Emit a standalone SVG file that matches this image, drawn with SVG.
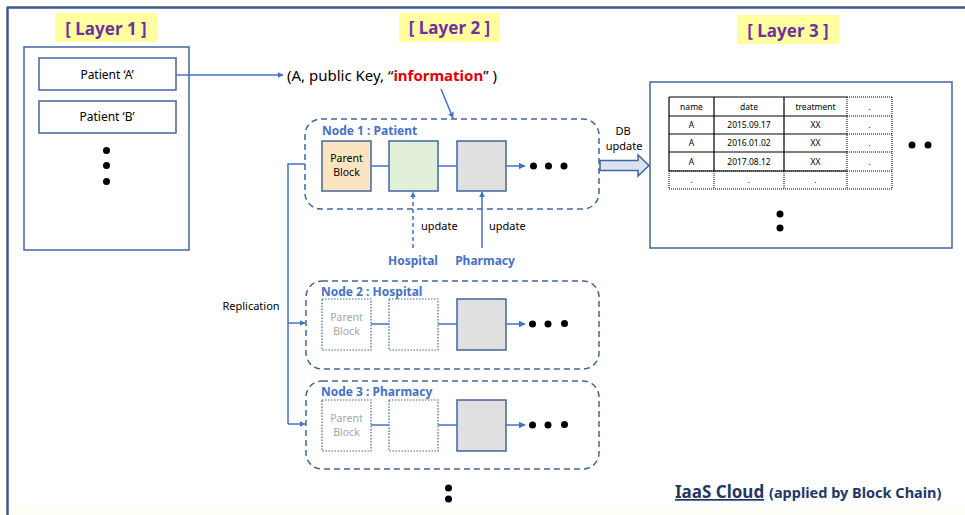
<svg xmlns="http://www.w3.org/2000/svg" width="965" height="515" viewBox="0 0 965 515">
<defs>
<marker id="ah" viewBox="0 0 10 10" refX="9" refY="5" markerWidth="6" markerHeight="6" markerUnits="userSpaceOnUse" orient="auto"><path d="M0,0 L10,5 L0,10 z" fill="#4472c4"/></marker>
<marker id="ahs" viewBox="0 0 10 10" refX="9" refY="5" markerWidth="7" markerHeight="7" markerUnits="userSpaceOnUse" orient="auto"><path d="M0,0 L10,5 L0,10 z" fill="#4472c4"/></marker>
</defs>
<style>
text{font-family:"Noto Sans","Noto Sans CJK KR",sans-serif;}
.lay{fill:#7030a0;font-weight:bold;font-size:17px;text-anchor:middle;}
.laybg{fill:#ffff9f;}
.frame{fill:none;stroke:#41669c;stroke-width:1.5;}
.pbox{fill:#fff;stroke:#41669c;stroke-width:1.5;}
.ptxt{font-size:12px;text-anchor:middle;fill:#000;}
.btxt{font-size:10.5px;text-anchor:middle;fill:#000;}
.dot{fill:#000;}
.node{fill:none;stroke:#41669c;stroke-width:1.5;stroke-dasharray:6,4;}
.ntitle{font-size:12px;font-weight:bold;fill:#4472c4;}
.blk{stroke:#41669c;stroke-width:1.5;}
.dblk{fill:#fff;stroke:#41669c;stroke-width:1.2;stroke-dasharray:1.5,1.5;}
.conn{stroke:#4472c4;stroke-width:1.5;fill:none;}
.small{font-size:11px;fill:#000;}
.blue{font-size:12px;font-weight:bold;fill:#4472c4;text-anchor:middle;}
.gray{font-size:10.5px;fill:#a6a6a6;text-anchor:middle;}
.tb{font-size:8.5px;fill:#000;text-anchor:middle;}
.tl{stroke:#000;stroke-width:1.2;}
.td{stroke:#000;stroke-width:1;stroke-dasharray:1,1;}
</style>
<rect width="965" height="515" fill="#fff"/>
<rect x="0" y="509" width="965" height="6" fill="#fffff5"/>
<g id="outer-frame">
<line x1="7" y1="7.5" x2="965" y2="7.5" stroke="#3a5a8c" stroke-width="2.5"/>
<line x1="7.5" y1="7" x2="7.5" y2="515" stroke="#3a5a8c" stroke-width="2.5"/>
</g>
<g id="layer1-label"><rect class="laybg" x="55" y="13" width="102" height="29"/><text class="lay" x="106" y="35">[ Layer 1 ]</text></g>
<g id="layer2-label"><rect class="laybg" x="399" y="13" width="101" height="29"/><text class="lay" x="449.5" y="34">[ Layer 2 ]</text></g>
<g id="layer3-label"><rect class="laybg" x="737" y="15" width="102" height="29"/><text class="lay" x="788" y="37">[ Layer 3 ]</text></g>

<g id="layer1">
<rect class="frame" x="24" y="47" width="165" height="203"/>
<g id="patientA"><rect class="pbox" x="39" y="58" width="137" height="32"/><text class="ptxt" x="107" y="79">Patient ‘A’</text></g>
<g id="patientB"><rect class="pbox" x="39" y="101" width="137" height="32"/><text class="ptxt" x="107" y="121">Patient ‘B’</text></g>
<circle class="dot" cx="106.5" cy="150.5" r="3.5"/><circle class="dot" cx="106.5" cy="165.5" r="3.5"/><circle class="dot" cx="106.5" cy="181.5" r="3.5"/>
</g>

<g id="info-text"><text x="287" y="81" font-size="15" fill="#000">(A, public Key, “<tspan fill="#e00000" font-weight="bold">information</tspan>” )</text></g>

<g id="node1">
<rect class="node" x="305" y="119" width="294" height="90" rx="16"/>
<text class="ntitle" x="322" y="135">Node 1 : Patient</text>
<rect class="blk" x="322" y="141" width="49" height="50" fill="#fbe5c0"/>
<text class="btxt" x="346.5" y="162">Parent</text><text class="btxt" x="346.5" y="176">Block</text>
<rect class="blk" x="389" y="141" width="49" height="50" fill="#e2efd9"/>
<rect class="blk" x="457" y="141" width="49" height="50" fill="#e0e0e0"/>
<circle class="dot" cx="533.5" cy="166" r="3.5"/><circle class="dot" cx="548.5" cy="166" r="3.5"/><circle class="dot" cx="564" cy="166" r="3.5"/>
</g>

<g id="node2">
<rect class="node" x="306" y="281" width="293" height="88" rx="16"/>
<text class="ntitle" x="321" y="296">Node 2 : Hospital</text>
<rect class="dblk" x="322" y="299" width="49" height="51"/>
<text class="gray" x="346.5" y="321">Parent</text><text class="gray" x="346.5" y="335">Block</text>
<rect class="dblk" x="389" y="299" width="49" height="51"/>
<rect class="blk" x="457" y="299" width="49" height="51" fill="#e0e0e0"/>
<circle class="dot" cx="532.5" cy="324" r="3.5"/><circle class="dot" cx="548" cy="324" r="3.5"/><circle class="dot" cx="564.5" cy="323.5" r="3.5"/>
</g>

<g id="node3">
<rect class="node" x="306" y="381" width="293" height="88" rx="16"/>
<text class="ntitle" x="321" y="396">Node 3 : Pharmacy</text>
<rect class="dblk" x="322" y="400" width="49" height="51"/>
<text class="gray" x="346.5" y="422">Parent</text><text class="gray" x="346.5" y="436">Block</text>
<rect class="dblk" x="389" y="400" width="49" height="51"/>
<rect class="blk" x="457" y="400" width="49" height="51" fill="#e0e0e0"/>
<circle class="dot" cx="532.5" cy="425" r="3.5"/><circle class="dot" cx="548" cy="425" r="3.5"/><circle class="dot" cx="564.5" cy="424.5" r="3.5"/>
</g>

<g id="more-nodes"><circle class="dot" cx="448.5" cy="488" r="3.5"/><circle class="dot" cx="448.5" cy="499" r="3.5"/></g>

<g id="sources">
<text class="blue" x="413" y="265">Hospital</text>
<text class="blue" x="485" y="265">Pharmacy</text>
</g>

<g id="layer3">
<rect class="frame" x="650" y="82" width="302" height="166"/>
<g id="table">
<line class="tl" x1="669" y1="97" x2="847" y2="97"/>
<line class="tl" x1="669" y1="116" x2="847" y2="116"/>
<line class="tl" x1="669" y1="134" x2="847" y2="134"/>
<line class="tl" x1="669" y1="152" x2="847" y2="152"/>
<line class="tl" x1="669" y1="171" x2="847" y2="171"/>
<line class="tl" x1="669" y1="97" x2="669" y2="171"/>
<line class="tl" x1="714" y1="97" x2="714" y2="171"/>
<line class="tl" x1="784" y1="97" x2="784" y2="171"/>
<line class="td" x1="847" y1="97" x2="892" y2="97"/>
<line class="td" x1="847" y1="116" x2="892" y2="116"/>
<line class="td" x1="847" y1="134" x2="892" y2="134"/>
<line class="td" x1="847" y1="152" x2="892" y2="152"/>
<line class="td" x1="669" y1="171" x2="892" y2="171"/>
<line class="td" x1="669" y1="189" x2="892" y2="189"/>
<line class="td" x1="847" y1="97" x2="847" y2="189"/>
<line class="td" x1="892" y1="97" x2="892" y2="189"/>
<line class="td" x1="669" y1="171" x2="669" y2="189"/>
<line class="td" x1="714" y1="171" x2="714" y2="189"/>
<line class="td" x1="784" y1="171" x2="784" y2="189"/>
<text class="tb" x="691.5" y="110">name</text><text class="tb" x="749" y="110">date</text><text class="tb" x="815.5" y="110">treatment</text><text class="tb" x="869.5" y="110">.</text>
<text class="tb" x="691.5" y="128">A</text><text class="tb" x="749" y="128">2015.09.17</text><text class="tb" x="815.5" y="128">XX</text><text class="tb" x="869.5" y="128">.</text>
<text class="tb" x="691.5" y="146">A</text><text class="tb" x="749" y="146">2016.01.02</text><text class="tb" x="815.5" y="146">XX</text><text class="tb" x="869.5" y="146">.</text>
<text class="tb" x="691.5" y="165">A</text><text class="tb" x="749" y="165">2017.08.12</text><text class="tb" x="815.5" y="165">XX</text><text class="tb" x="869.5" y="165">.</text>
<text class="tb" x="691.5" y="183">.</text><text class="tb" x="749" y="183">.</text><text class="tb" x="815.5" y="183">.</text>
</g>
<circle class="dot" cx="912" cy="145" r="3.5"/><circle class="dot" cx="928" cy="145" r="3.5"/>
<circle class="dot" cx="780" cy="214" r="3.5"/><circle class="dot" cx="780" cy="228" r="3.5"/>
</g>

<g id="footer">
<text x="675" y="498" font-size="17" font-weight="bold" fill="#1f3864" text-decoration="underline">IaaS Cloud</text>
<text x="769" y="498" font-size="14.5" font-weight="bold" fill="#1f3864">(applied by Block Chain)</text>
</g>

<g id="connectors">
<line class="conn" x1="176" y1="75" x2="283" y2="75" marker-end="url(#ah)"/>
<line class="conn" x1="441" y1="89" x2="453" y2="118" marker-end="url(#ah)"/>
<line class="conn" x1="371" y1="166" x2="389" y2="166"/>
<line class="conn" x1="438" y1="166" x2="457" y2="166"/>
<line class="conn" x1="506" y1="166" x2="525" y2="166" marker-end="url(#ahs)"/>
<line class="conn" x1="371" y1="324" x2="389" y2="324"/>
<line class="conn" x1="438" y1="324" x2="457" y2="324"/>
<line class="conn" x1="506" y1="324" x2="525" y2="324" marker-end="url(#ahs)"/>
<line class="conn" x1="371" y1="425" x2="389" y2="425"/>
<line class="conn" x1="438" y1="425" x2="457" y2="425"/>
<line class="conn" x1="506" y1="425" x2="525" y2="425" marker-end="url(#ahs)"/>
<line class="conn" x1="413" y1="248" x2="413" y2="192" stroke-dasharray="4,3" marker-end="url(#ah)"/>
<line class="conn" x1="482" y1="248" x2="482" y2="192" marker-end="url(#ah)"/>
<text class="small" x="421" y="230">update</text>
<text class="small" x="489" y="230">update</text>
<polyline class="conn" points="305,164 288,164 288,424"/>
<line class="conn" x1="288" y1="323" x2="305" y2="323" marker-end="url(#ah)"/>
<line class="conn" x1="288" y1="424" x2="305" y2="424" marker-end="url(#ah)"/>
<text class="small" x="251" y="310" text-anchor="middle">Replication</text>
<path d="M600,160.5 L638,160.5 L638,155 L649,165.5 L638,176 L638,170.5 L600,170.5 Z" fill="#dae3f3" stroke="#41669c" stroke-width="1.5"/>
<text class="small" x="623" y="135" text-anchor="middle" font-size="12">DB</text>
<text class="small" x="624" y="150" text-anchor="middle" font-size="12">update</text>
</g>
</svg>
